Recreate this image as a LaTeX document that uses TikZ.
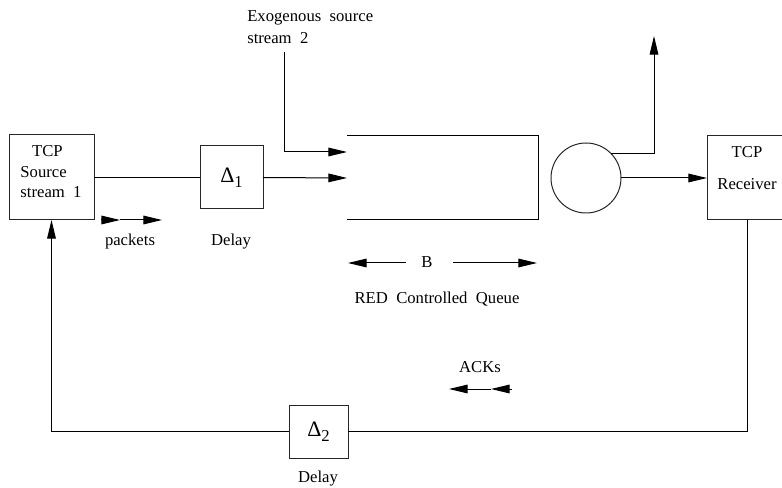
\documentclass[tikz,border=0pt]{standalone}
\usepackage{fontspec}
\setmainfont{Liberation Serif}
\usetikzlibrary{arrows.meta}
\begin{document}
\begin{tikzpicture}[x=0.75pt,y=-0.75pt,
  every node/.style={font=\fontsize{12.5}{15.4}\selectfont},
  blk/.style={draw=black!85,line width=0.75pt,inner sep=0pt,outer sep=0pt},
  ln/.style={line width=0.75pt},
  arr/.style={ln,-{Triangle[length=14pt,width=6.5pt]}},
  lbl/.style={inner sep=0pt},
  dl/.style={font=\fontsize{16.5}{18}\selectfont}]
\useasboundingbox (0,0) rectangle (782,488);
\clip (0,0) rectangle (782,488);
% blocks
\node[blk,minimum width=63.75pt,minimum height=63.75pt] (src) at (51.5,177.5) {};
\node[lbl,align=left] (srct) at (51,172) {\hspace*{0.7em}TCP\\Source\\stream\ \ 1};
\node[blk,minimum width=47.25pt,minimum height=47.25pt,dl] (d1) at (231.5,177.5) {Δ\raisebox{-0.5ex}{\fontsize{12.5}{13}\selectfont 1}};
\node[blk,minimum width=44.25pt,minimum height=39.75pt,dl] (d2) at (318.5,431.5) {Δ\raisebox{-0.5ex}{\fontsize{12.5}{13}\selectfont 2}};
\node[blk,circle,minimum size=52.5pt] (srv) at (586,178) {};
\node[blk,minimum width=60pt,minimum height=63pt] (rcv) at (747,178) {};
\node[lbl,align=center,font=\fontsize{12.5}{24}\selectfont] (rcvt) at (747,168) {TCP\\Receiver};
% queue
\coordinate (qa) at (347,136);
\coordinate (qb) at (538,136);
\coordinate (qc) at (538,220);
\coordinate (qd) at (347,220);
\draw[ln] (qa) -- (qb) -- (qc) -- (qd);
\coordinate (q1) at (347,178);
\coordinate (q2) at (347,152);
\coordinate (ex) at (284,52);
\coordinate (up) at (654,36);
% connectors
\draw[ln] (src.east) -- (d1.west);
\draw[arr] (d1.east) -- (q1);
\draw[arr] (ex) |- (q2);
\draw[arr] (srv.east) -- (rcv.west);
\draw[arr] (srv.45) -| (up);
\draw[ln] (rcv.south) |- (d2.east);
\draw[arr] (d2.west) -| (src.south);
% texts
\node[lbl,align=left,anchor=west,font=\fontsize{12.5}{16.5}\selectfont] (exo) at (247,27) {Exogenous\ \ source\\stream\ \ 2};
\node[lbl] (pk) at (130,241) {packets};
\node[lbl] (dl1) at (231,242) {Delay};
\node[lbl] (dl2) at (318,479) {Delay};
\node[lbl] (bl) at (427,262) {B};
\node[lbl] (red) at (437,299) {RED\ \ Controlled\ \ Queue};
\node[lbl] (ack) at (480,367) {ACKs};
% small arrows
\coordinate (pa) at (101,220);
\coordinate (pb) at (120,220);
\coordinate (pc) at (162,220);
\draw[arr] (pa) -- (pb);
\draw[arr] (pb) -- (pc);
\coordinate (ba) at (406,263);
\coordinate (bb) at (348,263);
\coordinate (bc) at (453,263);
\coordinate (bd) at (537,263);
\draw[arr] (ba) -- (bb);
\draw[arr] (bc) -- (bd);
\coordinate (aa) at (512,389);
\coordinate (ab) at (491,389);
\coordinate (ac) at (449,389);
\draw[arr] (aa) -- (ab);
\draw[arr] (ab) -- (ac);
\end{tikzpicture}
\end{document}
